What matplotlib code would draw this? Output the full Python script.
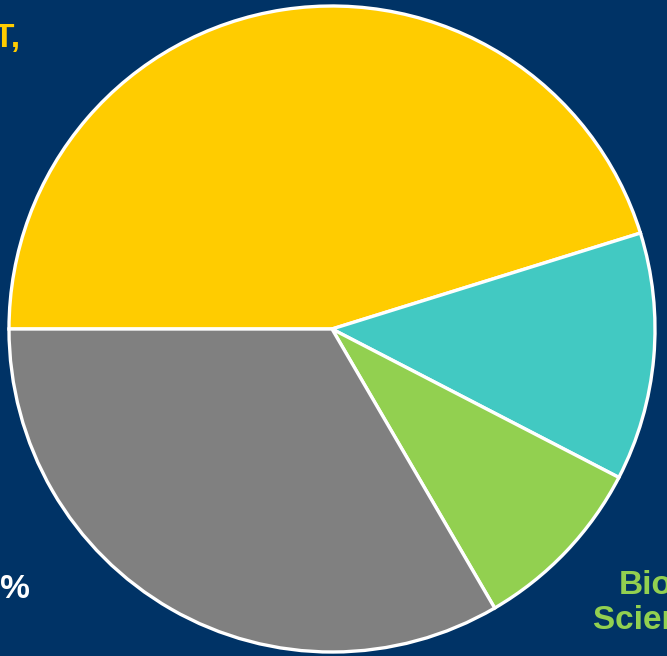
import matplotlib.pyplot as plt

# share of each field
labels = ['Engineering & IT,\n45%', 'Chemistry,\n12%', 'Biological\nSciences, 9%', 'Social Sciences, 33%']
shares = [45.2, 12.4, 9.0, 33.4]
colors = ['#FFCC00', '#42C9C2', '#92D050', '#808080']
label_colors = ['#FFCC00', '#42C9C2', '#92D050', '#FFFFFF']

W, H = 667, 656
bg = '#003366'

fig = plt.figure(figsize=(W / 100, H / 100), dpi=100, facecolor=bg)
ax = fig.add_axes([0, 0, 1, 1])
ax.set_facecolor(bg)

ax.pie(shares, colors=colors, startangle=180, counterclock=False,
       center=(332, H - 329), radius=323,
       wedgeprops=dict(edgecolor='white', linewidth=2.4))

ax.set_xlim(0, W)
ax.set_ylim(0, H)
ax.set_aspect('auto')
ax.axis('off')

# labels sit outside the pie, mostly cut off by the frame
# (the Chemistry label lies wholly off to the right, so it is not drawn)
font = dict(family='Liberation Sans', fontweight='bold', fontsize=24, linespacing=1.15,
            multialignment='center')
ax.text(20, H - 23, labels[0], color=label_colors[0], ha='right', va='top', **font)
ax.text(593, H - 570, labels[2], color=label_colors[2], ha='left', va='top', **font)
ax.text(30, H - 574, labels[3], color=label_colors[3], ha='right', va='top', **font)

plt.savefig('out.png', dpi=100, facecolor=bg)
